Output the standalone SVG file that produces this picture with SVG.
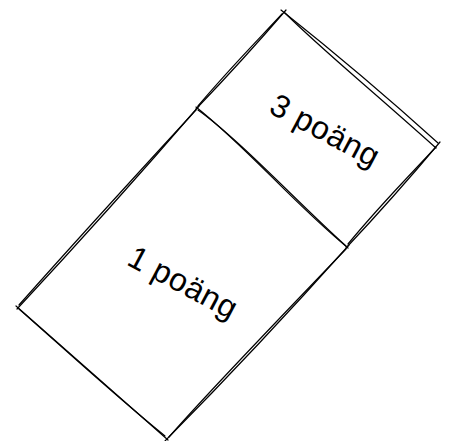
<svg xmlns="http://www.w3.org/2000/svg" width="455" height="441" viewBox="0 0 455 441">
<style>
.e{fill:none;stroke:#000;stroke-width:1.2;stroke-linecap:round}
.t{font-family:"Liberation Sans","DejaVu Sans",sans-serif;font-size:32px;letter-spacing:0.5px;fill:#000;text-anchor:middle}
</style>
<rect width="455" height="441" fill="#fff"/>
<g id="box-3">
<path class="e" d="M281 10 Q364 76 438 143"/>
<path class="e" d="M285 13 C320 48 360 80 436 148"/>
<path class="e" d="M440 142 Q394 197 346 248"/>
<path class="e" d="M436 147 C410 175 380 205 348 244"/>
<path class="e" d="M286 10 Q243 60 196 109"/>
<path class="e" d="M282 14 C258 40 230 68 198 106"/>
<text class="t" transform="translate(320,140) rotate(28)">3 poäng</text>
</g>
<g id="box-1">
<path class="e" d="M196 107 C250 150 290 200 348 248"/>
<path class="e" d="M198 110 C240 140 300 205 346 246"/>
<path class="e" d="M199 106 Q112 207 17 309"/>
<path class="e" d="M196 110 C150 160 90 225 19 305"/>
<path class="e" d="M16 306 Q92 373 168 440"/>
<path class="e" d="M19 309 C60 345 120 400 165 436"/>
<path class="e" d="M165 441 Q258 347 349 245"/>
<path class="e" d="M169 437 C210 390 280 318 346 249"/>
<text class="t" transform="translate(178,292) rotate(28)">1 poäng</text>
</g>
<g id="connectors"/>
</svg>
